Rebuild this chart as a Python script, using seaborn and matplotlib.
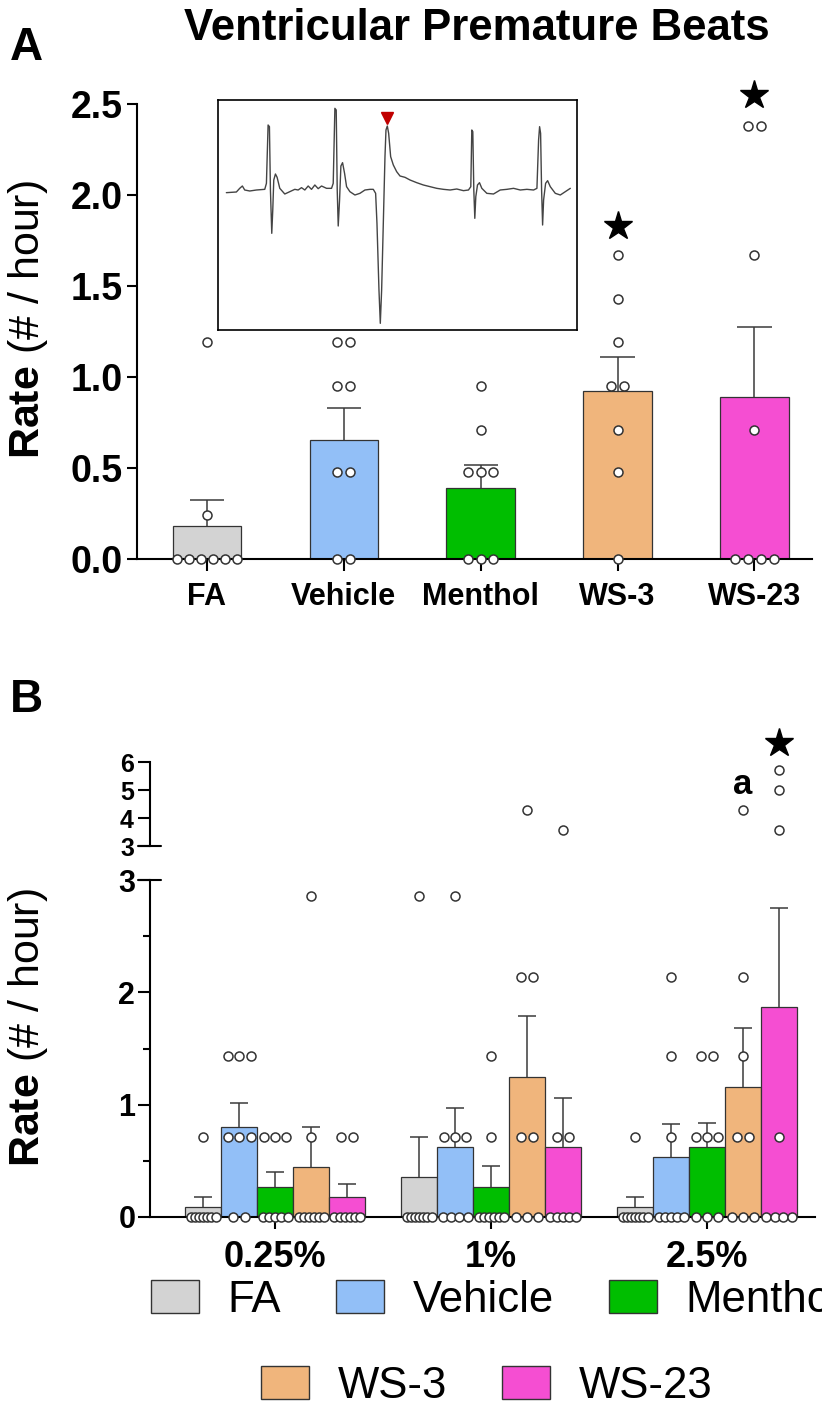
import numpy as np
import pandas as pd
import matplotlib
matplotlib.use("Agg")
import matplotlib.pyplot as plt
import matplotlib.transforms as mtransforms
from matplotlib.patches import Patch
from matplotlib.colors import to_hex
import seaborn as sns

sns.set_theme(style="white")
plt.rcParams["font.family"] = ["Liberation Sans", "DejaVu Sans"]
plt.rcParams["mathtext.fontset"] = "custom"
plt.rcParams["mathtext.rm"] = "Liberation Sans"
plt.rcParams["mathtext.bf"] = "Liberation Sans:bold"
for k in ["text.color", "axes.labelcolor", "xtick.color", "ytick.color", "axes.edgecolor"]:
    plt.rcParams[k] = "black"

# ---------------- data ----------------
treatments = ["FA", "Vehicle", "Menthol", "WS-3", "WS-23"]
colors = ["#D3D3D3", "#92BFF7", "#00BE00", "#F0B57C", "#F54ED2"]

# Panel A: individual animals (rate, # / hour)
a_fa = [0, 0, 0, 0, 0, 0, 0.24, 1.19]
a_vehicle = [0, 0, 0.48, 0.48, 0.95, 0.95, 1.19, 1.19]
a_menthol = [0, 0, 0, 0.48, 0.48, 0.48, 0.71, 0.95]
a_ws3 = [0, 0.48, 0.71, 0.95, 0.95, 1.19, 1.43, 1.67]
a_ws23 = [0, 0, 0, 0, 0.71, 1.67, 2.38, 2.38]
a_sig_groups = ["WS-3", "WS-23"]
a_sig_y = [1.83, 2.55]

# Panel B: by concentration
concs = ["0.25%", "1%", "2.5%"]
b_fa_025 = [0, 0, 0, 0, 0, 0, 0, 0.71]
b_veh_025 = [0, 0, 0.71, 0.71, 0.71, 1.43, 1.43, 1.43]
b_men_025 = [0, 0, 0, 0, 0, 0.71, 0.71, 0.71]
b_ws3_025 = [0, 0, 0, 0, 0, 0, 0.71, 2.86]
b_ws23_025 = [0, 0, 0, 0, 0, 0, 0.71, 0.71]
b_fa_1 = [0, 0, 0, 0, 0, 0, 0, 2.86]
b_veh_1 = [0, 0, 0, 0, 0.71, 0.71, 0.71, 2.86]
b_men_1 = [0, 0, 0, 0, 0, 0, 0.71, 1.43]
b_ws3_1 = [0, 0, 0, 0.71, 0.71, 2.14, 2.14, 4.29]
b_ws23_1 = [0, 0, 0, 0, 0, 0.71, 0.71, 3.57]
b_fa_25 = [0, 0, 0, 0, 0, 0, 0, 0.71]
b_veh_25 = [0, 0, 0, 0, 0, 0.71, 1.43, 2.14]
b_men_25 = [0, 0, 0, 0.71, 0.71, 0.71, 1.43, 1.43]
b_ws3_25 = [0, 0, 0, 0.71, 0.71, 1.43, 2.14, 4.29]
b_ws23_25 = [0, 0, 0, 0, 0.71, 3.57, 5.00, 5.71]
b_sig_star = ("2.5%", "WS-23", 6.68)
b_sig_a = ("2.5%", "WS-3", 5.18)

# ECG inset trace (x = time, y = screen height)
ecg_x = [80, 110, 120, 128, 135, 150, 170, 195, 200, 205,
         209, 212, 216, 219, 222, 227, 232, 240, 255, 270,
         285, 295, 305, 315, 325, 335, 345, 355, 365, 380,
         395, 400, 405, 409, 412, 415, 419, 423, 428, 434,
         440, 450, 465, 480, 495, 510, 520, 527, 531, 537,
         541, 545, 550, 555, 558, 562, 566, 572, 580, 590,
         600, 615, 630, 650, 670, 690, 710, 730, 750, 770,
         790, 805, 812, 815, 818, 821, 824, 827, 832, 838,
         845, 860, 880, 900, 920, 940, 960, 980, 1000, 1010,
         1015, 1018, 1021, 1024, 1027, 1030, 1036, 1042, 1050, 1065,
         1080, 1095, 1110]
ecg_y = [308, 306, 295, 288, 300, 303, 300, 298, 280, 105,
         110, 300, 430, 360, 270, 252, 262, 295, 312, 305,
         298, 300, 293, 300, 288, 298, 285, 296, 288, 295,
         295, 280, 55, 60, 300, 408, 330, 228, 218, 250,
         290, 305, 315, 310, 300, 298, 298, 310, 400, 600,
         700, 600, 400, 200, 120, 108, 130, 200, 225, 245,
         258, 262, 270, 278, 285, 290, 295, 298, 300, 297,
         302, 300, 290, 120, 125, 300, 385, 320, 285, 278,
         295, 310, 312, 300, 298, 295, 300, 298, 300, 295,
         150, 110, 130, 300, 405, 330, 280, 272, 290, 310,
         315, 305, 295]
ecg_marker = (562, 85)

# ---------------- frames ----------------
a_lists = [a_fa, a_vehicle, a_menthol, a_ws3, a_ws23]
dfA = pd.DataFrame([(t, v) for t, vals in zip(treatments, a_lists) for v in vals],
                   columns=["group", "rate"])
b_lists = {
    "FA": [b_fa_025, b_fa_1, b_fa_25],
    "Vehicle": [b_veh_025, b_veh_1, b_veh_25],
    "Menthol": [b_men_025, b_men_1, b_men_25],
    "WS-3": [b_ws3_025, b_ws3_1, b_ws3_25],
    "WS-23": [b_ws23_025, b_ws23_1, b_ws23_25],
}
dfB = pd.DataFrame([(c, t, v) for t in treatments for c, vals in zip(concs, b_lists[t]) for v in vals],
                   columns=["conc", "treat", "rate"])

W, H = 822, 1410
fig = plt.figure(figsize=(W / 100, H / 100), dpi=100)


def fx(px):
    return px / W


def fy(py):
    return 1 - py / H


def spread(vals, step, maxspan):
    vals = np.asarray(vals, dtype=float)
    offs = np.zeros(len(vals))
    for v in np.unique(vals):
        idx = np.where(vals == v)[0]
        n = len(idx)
        if n > 1:
            sp = min(step, maxspan / (n - 1))
            offs[idx] = (np.arange(n) - (n - 1) / 2) * sp
    return offs


EDGE = "#333333"
ERR = "#3a3a3a"
PT_S = 42
PT_LW = 1.1

# ---------------- Panel A ----------------
axA = fig.add_axes([fx(137), fy(559), fx(812) - fx(137), fy(104) - fy(559)])
sns.barplot(data=dfA, x="group", y="rate", hue="group", order=treatments,
            hue_order=treatments, palette=colors, saturation=1, errorbar=None, width=0.5,
            edgecolor=EDGE, linewidth=0.9, legend=False, ax=axA, zorder=2)
statsA = dfA.groupby("group")["rate"].agg(["mean", "sem"])
bars = sorted(axA.patches, key=lambda p: p.get_x())
for t, b in zip(treatments, bars):
    xc = b.get_x() + b.get_width() / 2
    w = b.get_width()
    m, s = statsA.loc[t, "mean"], statsA.loc[t, "sem"]
    axA.vlines(xc, m, m + s, color=ERR, lw=1.1, zorder=3)
    axA.hlines(m + s, xc - w / 4, xc + w / 4, color=ERR, lw=1.1, zorder=3)
    vals = dfA.loc[dfA.group == t, "rate"].values
    xs = xc + spread(vals, 0.093, 0.44)
    sns.scatterplot(x=xs, y=vals, ax=axA, s=PT_S, color="white", edgecolor=EDGE,
                    linewidth=PT_LW, zorder=5, clip_on=False, legend=False)
for g, yv in zip(a_sig_groups, a_sig_y):
    b = bars[treatments.index(g)]
    axA.plot(b.get_x() + b.get_width() / 2, yv, marker="*", ms=21, color="black",
             clip_on=False, zorder=6)

axA.set_xlim(-0.51, 4.42)
axA.set_ylim(0, 2.5)
ytA = [0, 0.5, 1.0, 1.5, 2.0, 2.5]
axA.set_yticks(ytA, [f"{t:.1f}" for t in ytA], fontsize=27, fontweight="bold")
axA.set_xticks(range(5), treatments, fontsize=22, fontweight="bold")
axA.set_xlabel("")
axA.set_ylabel("")
for sp in ["top", "right"]:
    axA.spines[sp].set_visible(False)
for sp in ["left", "bottom"]:
    axA.spines[sp].set_linewidth(1.5)
    axA.spines[sp].set_color("black")
axA.tick_params(axis="y", direction="out", length=7, width=1.5, pad=3, left=True)
axA.tick_params(axis="x", direction="out", length=8.6, width=1.5, pad=8, bottom=True)

# Inset ECG
axIn = fig.add_axes([fx(218), fy(330), fx(577) - fx(218), fy(100) - fy(330)])
sns.lineplot(x=ecg_x, y=ecg_y, ax=axIn, color="#444444", lw=1.0, estimator=None, sort=False)
axIn.plot(ecg_marker[0], ecg_marker[1], marker="v", ms=8, color="#C00000", ls="none")
axIn.set_xlim(55, 1130)
axIn.set_ylim(720, 30)
axIn.set_xticks([])
axIn.set_yticks([])
for sp in axIn.spines.values():
    sp.set_visible(True)
    sp.set_color("black")
    sp.set_linewidth(1.2)

# ---------------- Panel B ----------------
axB = fig.add_axes([fx(150), fy(1217), fx(815) - fx(150), fy(880) - fy(1217)])
axBu = fig.add_axes([fx(150), fy(846), fx(815) - fx(150), fy(762) - fy(846)], sharex=axB)
sns.barplot(data=dfB, x="conc", y="rate", hue="treat", order=concs, hue_order=treatments,
            palette=colors, saturation=1, errorbar=None, width=0.833, edgecolor=EDGE,
            linewidth=0.9, legend=False, ax=axB, zorder=2)
statsB = dfB.groupby(["conc", "treat"])["rate"].agg(["mean", "sem"])
centers = {}
conts = [c for c in axB.containers if len(c.patches) > 0]
for k, cont in enumerate(conts):
    bs = sorted(cont.patches, key=lambda p: p.get_x())
    fc = to_hex(bs[0].get_facecolor()).lower()
    low = [c.lower() for c in colors]
    hi = low.index(fc) if fc in low else k
    for ci, b in enumerate(bs):
        centers[(concs[ci], treatments[hi])] = (b.get_x() + b.get_width() / 2, b.get_width())

for (c, t), (xc, w) in centers.items():
    m, s = statsB.loc[(c, t), "mean"], statsB.loc[(c, t), "sem"]
    axB.vlines(xc, m, m + s, color=ERR, lw=1.1, zorder=3)
    axB.hlines(m + s, xc - w / 4, xc + w / 4, color=ERR, lw=1.1, zorder=3)
    vals = dfB.loc[(dfB.conc == c) & (dfB.treat == t), "rate"].values
    xs = xc + spread(vals, 0.053, 0.116)
    lo = vals <= 3
    sns.scatterplot(x=xs[lo], y=vals[lo], ax=axB, s=PT_S, color="white", edgecolor=EDGE,
                    linewidth=PT_LW, zorder=5, clip_on=False, legend=False)
    if (~lo).any():
        sns.scatterplot(x=xs[~lo], y=vals[~lo], ax=axBu, s=PT_S, color="white", edgecolor=EDGE,
                        linewidth=PT_LW, zorder=5, clip_on=False, legend=False)

xc, _ = centers[(b_sig_star[0], b_sig_star[1])]
axBu.plot(xc, b_sig_star[2], marker="*", ms=21, color="black", clip_on=False, zorder=6)
xc, _ = centers[(b_sig_a[0], b_sig_a[1])]
axBu.text(xc, b_sig_a[2], "a", ha="center", va="center", fontsize=25, fontweight="bold")

axB.set_xlim(-0.579, 2.5)
axB.set_ylim(0, 3)
axBu.set_ylim(3, 6)
axB.set_yticks([0, 1, 2, 3], ["0", "1", "2", "3"], fontsize=22, fontweight="bold")
axB.set_yticks([0.5, 1.5, 2.5], minor=True)
axBu.set_yticks([3, 4, 5, 6], ["3", "4", "5", "6"], fontsize=18, fontweight="bold")
axB.set_xticks(range(3), concs, fontsize=26, fontweight="bold")
axB.set_xlabel("")
axB.set_ylabel("")
axBu.set_xlabel("")
axBu.set_ylabel("")
for sp in ["top", "right"]:
    axB.spines[sp].set_visible(False)
for sp in ["top", "right", "bottom"]:
    axBu.spines[sp].set_visible(False)
for ax in (axB, axBu):
    ax.spines["left"].set_linewidth(1.5)
    ax.spines["left"].set_color("black")
axB.spines["bottom"].set_linewidth(1.5)
axB.spines["bottom"].set_color("black")
axB.tick_params(axis="y", which="major", direction="out", length=8.6, width=1.5, pad=2, left=True)
axB.tick_params(axis="y", which="minor", direction="out", length=5, width=1.5, left=True)
axB.tick_params(axis="x", direction="out", length=8.6, width=1.5, pad=8, bottom=True)
axBu.tick_params(axis="y", direction="out", length=8.6, width=1.5, pad=3, left=True)
axBu.tick_params(axis="x", bottom=False, labelbottom=False)
axBu.patch.set_alpha(0)
# break caps at y = 3
for ax in (axB, axBu):
    tr = mtransforms.blended_transform_factory(ax.transAxes, ax.transData)
    ax.plot([-0.018, 0.0165], [3, 3], color="black", lw=1.5, transform=tr, clip_on=False)

# ---------------- text ----------------
fig.text(fx(477), fy(28), "Ventricular Premature Beats", ha="center", va="center",
         fontsize=31.5, fontweight="bold")
fig.text(fx(10), fy(48), "A", ha="left", va="center", fontsize=33, fontweight="bold")
fig.text(fx(10), fy(700), "B", ha="left", va="center", fontsize=33, fontweight="bold")
fig.text(fx(28), fy(320), r"$\mathbf{Rate}$ (# / hour)", rotation=90, ha="center",
         va="center", fontsize=31)
fig.text(fx(28), fy(1028), r"$\mathbf{Rate}$ (# / hour)", rotation=90, ha="center",
         va="center", fontsize=31)

handles = [Patch(facecolor=c, edgecolor=EDGE, linewidth=1.0) for c in colors]
leg_kw = dict(frameon=False, fontsize=31.5, handlelength=1.1, handleheight=0.8,
              handletextpad=0.66, columnspacing=1.25, borderpad=0, loc="center")
leg1 = fig.legend(handles[:3], treatments[:3], ncol=3, bbox_to_anchor=(fx(496), fy(1300)), **leg_kw)
leg2 = fig.legend(handles[3:], treatments[3:], ncol=2, bbox_to_anchor=(fx(487), fy(1386)), **leg_kw)

fig.savefig("out.png", dpi=100)
